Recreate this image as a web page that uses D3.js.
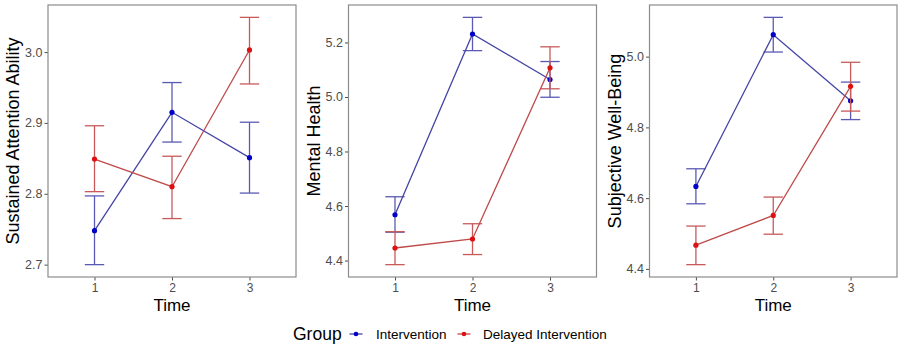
<!DOCTYPE html>
<html>
<head>
<meta charset="utf-8">
<script src="https://cdn.jsdelivr.net/npm/d3@7"></script>
<style>
  html, body { margin: 0; padding: 0; background: #fff; }
  svg { display: block; font-family: "Liberation Sans", Arial, Helvetica, sans-serif; }
</style>
</head>
<body>
<svg id="chart" width="904" height="348"></svg>
<script>
// ---------- data ----------
const times = [1, 2, 3];
const groups = ["Intervention", "Delayed Intervention"];
const panelTitles = ["Sustained Attention Ability", "Mental Health", "Subjective Well-Being"];
const yTicks = [[2.7, 2.8, 2.9, 3.0], [4.4, 4.6, 4.8, 5.0, 5.2], [4.4, 4.6, 4.8, 5.0]];

// Sustained Attention Ability
const saInterventionMean = [2.748, 2.915, 2.851];
const saInterventionLow  = [2.700, 2.873, 2.801];
const saInterventionHigh = [2.797, 2.957, 2.901];
const saDelayedMean = [2.849, 2.810, 3.003];
const saDelayedLow  = [2.803, 2.765, 2.955];
const saDelayedHigh = [2.896, 2.853, 3.049];

// Mental Health
const mhInterventionMean = [4.568, 5.231, 5.064];
const mhInterventionLow  = [4.504, 5.170, 4.999];
const mhInterventionHigh = [4.634, 5.292, 5.130];
const mhDelayedMean = [4.446, 4.479, 5.107];
const mhDelayedLow  = [4.385, 4.422, 5.030];
const mhDelayedHigh = [4.506, 4.535, 5.184];

// Subjective Well-Being
const swInterventionMean = [4.633, 5.062, 4.875];
const swInterventionLow  = [4.584, 5.013, 4.822];
const swInterventionHigh = [4.683, 5.111, 4.928];
const swDelayedMean = [4.467, 4.551, 4.916];
const swDelayedLow  = [4.412, 4.498, 4.846];
const swDelayedHigh = [4.521, 4.603, 4.984];

const panels = [
  { title: panelTitles[0], ticks: yTicks[0], series: [
    { mean: saInterventionMean, low: saInterventionLow, high: saInterventionHigh },
    { mean: saDelayedMean, low: saDelayedLow, high: saDelayedHigh } ] },
  { title: panelTitles[1], ticks: yTicks[1], series: [
    { mean: mhInterventionMean, low: mhInterventionLow, high: mhInterventionHigh },
    { mean: mhDelayedMean, low: mhDelayedLow, high: mhDelayedHigh } ] },
  { title: panelTitles[2], ticks: yTicks[2], series: [
    { mean: swInterventionMean, low: swInterventionLow, high: swInterventionHigh },
    { mean: swDelayedMean, low: swDelayedLow, high: swDelayedHigh } ] }
];

// ---------- styles ----------
const lineColors = ["#4545a6", "#bf4a4a"];
const barColors  = ["#5a5ab4", "#c85a5a"];
const pointColors = ["#0000c8", "#dd1111"];
const panelBoxes = [ [48, 296], [348.5, 596.5], [649.5, 897] ];
const plotTop = 5, plotBottom = 277;

const svg = d3.select("#chart");

panels.forEach((p, pi) => {
  const [x0, x1] = panelBoxes[pi];
  const x = d3.scaleLinear().domain([0.4, 3.6]).range([x0, x1]);
  const allVals = p.series.flatMap(s => s.low.concat(s.high));
  const lo = d3.min(allVals), hi = d3.max(allVals);
  const pad = (hi - lo) * 0.05;
  const y = d3.scaleLinear().domain([lo - pad, hi + pad]).range([plotBottom, plotTop]);

  const g = svg.append("g");

  // axes
  const yAxis = g.append("g").attr("transform", `translate(${x0},0)`)
    .call(d3.axisLeft(y).tickValues(p.ticks).tickFormat(d3.format(".1f")).tickSize(3.5).tickPadding(2));
  const xAxis = g.append("g").attr("transform", `translate(0,${plotBottom})`)
    .call(d3.axisBottom(x).tickValues(times).tickFormat(d3.format("d")).tickSize(3.5).tickPadding(2.5));
  [yAxis, xAxis].forEach(a => {
    a.select(".domain").remove();
    a.selectAll(".tick line").attr("stroke", "#4d4d4d").attr("stroke-width", 1);
    a.selectAll(".tick text").attr("fill", "#4d4d4d").style("font-size", "12.5px");
  });
  xAxis.selectAll(".tick text").style("font-size", "12px");

  // series
  p.series.forEach((s, si) => {
    const pts = times.map((t, i) => ({ t, m: s.mean[i], l: s.low[i], h: s.high[i] }));
    const hw = (x(1.125) - x(1));
    const eb = g.append("g").attr("stroke", barColors[si]).attr("stroke-width", 1.3).attr("fill", "none");
    pts.forEach(d => {
      eb.append("line").attr("x1", x(d.t)).attr("x2", x(d.t)).attr("y1", y(d.l)).attr("y2", y(d.h));
      eb.append("line").attr("x1", x(d.t) - hw).attr("x2", x(d.t) + hw).attr("y1", y(d.l)).attr("y2", y(d.l));
      eb.append("line").attr("x1", x(d.t) - hw).attr("x2", x(d.t) + hw).attr("y1", y(d.h)).attr("y2", y(d.h));
    });
    g.append("path").datum(pts)
      .attr("fill", "none").attr("stroke", lineColors[si]).attr("stroke-width", 1.3)
      .attr("d", d3.line().x(d => x(d.t)).y(d => y(d.m)));
    g.selectAll(null).data(pts).enter().append("circle")
      .attr("cx", d => x(d.t)).attr("cy", d => y(d.m)).attr("r", 2.6)
      .attr("fill", pointColors[si]);
  });

  // panel border
  g.append("rect").attr("x", x0).attr("y", plotTop).attr("width", x1 - x0).attr("height", plotBottom - plotTop)
    .attr("fill", "none").attr("stroke", "#8c8c8c").attr("stroke-width", 1.2);

  // axis titles
  g.append("text").attr("x", (x0 + x1) / 2).attr("y", 311).attr("text-anchor", "middle")
    .style("font-size", "17px").attr("fill", "#000").text("Time");
  const yMid = (plotTop + plotBottom) / 2;
  g.append("text").attr("transform", `translate(${x0 - 29},${yMid}) rotate(-90)`)
    .attr("text-anchor", "middle").style("font-size", "18px").attr("fill", "#000").text(p.title);
});

// legend
const leg = svg.append("g");
leg.append("text").attr("x", 293).attr("y", 340).style("font-size", "17.5px").attr("fill", "#000").text("Group");
const legItems = [ { kx: 356, tx: 376 }, { kx: 464, tx: 483 } ];
groups.forEach((gname, i) => {
  const k = legItems[i];
  leg.append("line").attr("x1", k.kx - 6.5).attr("x2", k.kx + 6.5).attr("y1", 334).attr("y2", 334)
    .attr("stroke", lineColors[i]).attr("stroke-width", 1.3);
  leg.append("circle").attr("cx", k.kx).attr("cy", 334).attr("r", 2.3).attr("fill", pointColors[i]);
  leg.append("text").attr("x", k.tx).attr("y", 339).style("font-size", "13.5px").attr("fill", "#000").text(gname);
});
</script>
</body>
</html>
